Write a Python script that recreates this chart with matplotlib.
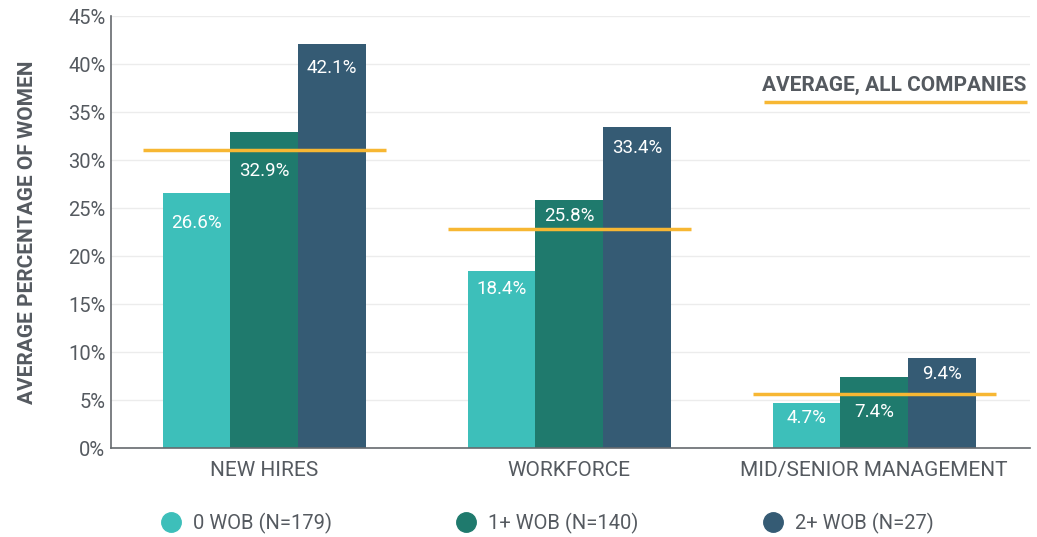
import numpy as np
import matplotlib.pyplot as plt
from matplotlib.lines import Line2D

plt.rcParams['font.family'] = ['Roboto', 'DejaVu Sans']

# data
categories = ['NEW HIRES', 'WORKFORCE', 'MID/SENIOR MANAGEMENT']
series = ['0 WOB (N=179)', '1+ WOB (N=140)', '2+ WOB (N=27)']
values = [
    [26.6, 18.4, 4.7],
    [32.9, 25.8, 7.4],
    [42.1, 33.4, 9.4],
]
averages = [31.0, 22.8, 5.6]

colors = ['#3dbfba', '#1f7a6d', '#355b74']
avg_color = '#f7b733'
text_gray = '#555a60'

# label offsets below bar top (points), pushed down where the average line sits
label_offsets = [
    [-22, -13, -11],
    [-28, -11, -25],
    [-17, -15, -12],
]

fig = plt.figure(figsize=(10.37, 5.37), dpi=100)
ax = fig.add_axes([0.107, 0.1657, 0.886, 0.8043])

x = np.arange(len(categories))
width = 0.222

for i in range(len(series)):
    pos = x + (i - 1) * width
    bars = ax.bar(pos, values[i], width, color=colors[i], zorder=2)
    for j, b in enumerate(bars):
        ax.annotate(f'{values[i][j]}%', (b.get_x() + b.get_width() / 2, b.get_height()),
                    xytext=(0, label_offsets[i][j]), textcoords='offset points',
                    ha='center', va='center', color='white', fontsize=13.5, zorder=4)

# average lines
for j, a in enumerate(averages):
    ax.plot([x[j] - 0.398, x[j] + 0.398], [a, a], color=avg_color, lw=2.5, zorder=3,
            solid_capstyle='butt')

# average key
ax.plot([1.638, 2.5], [36.1, 36.1], color=avg_color, lw=2.5, zorder=3, solid_capstyle='butt')
ax.text(2.5, 36.8, 'AVERAGE, ALL COMPANIES', ha='right', va='bottom',
        fontsize=15, fontweight='bold', color=text_gray)

ax.set_xlim(-0.503, 2.51)
ax.set_ylim(0, 45)
ax.set_yticks(np.arange(0, 46, 5))
ax.set_yticklabels([f'{v}%' for v in range(0, 46, 5)])
ax.set_xticks(x)
ax.set_xticklabels(categories)
ax.tick_params(axis='both', length=0, labelsize=14.5, colors=text_gray)
ax.tick_params(axis='x', labelsize=15, pad=9)
ax.tick_params(axis='y', pad=4)
ax.grid(axis='y', color='#ececec', lw=1, zorder=0)
ax.set_axisbelow(True)

for s in ['top', 'right']:
    ax.spines[s].set_visible(False)
for s in ['left', 'bottom']:
    ax.spines[s].set_color('#666a6e')
    ax.spines[s].set_linewidth(1.2)

ax.set_ylabel('AVERAGE PERCENTAGE OF WOMEN', fontsize=15, fontweight='bold',
              color=text_gray, labelpad=22)

# legend
handles = [Line2D([], [], marker='o', ls='', markersize=14, color=c) for c in colors]
fig.legend(handles, series, loc='center left', bbox_to_anchor=(0.128, 0.026),
           ncol=3, frameon=False, fontsize=14.5, handletextpad=0.1,
           columnspacing=5.65, labelcolor=text_gray)

fig.savefig('out.png', dpi=100)
